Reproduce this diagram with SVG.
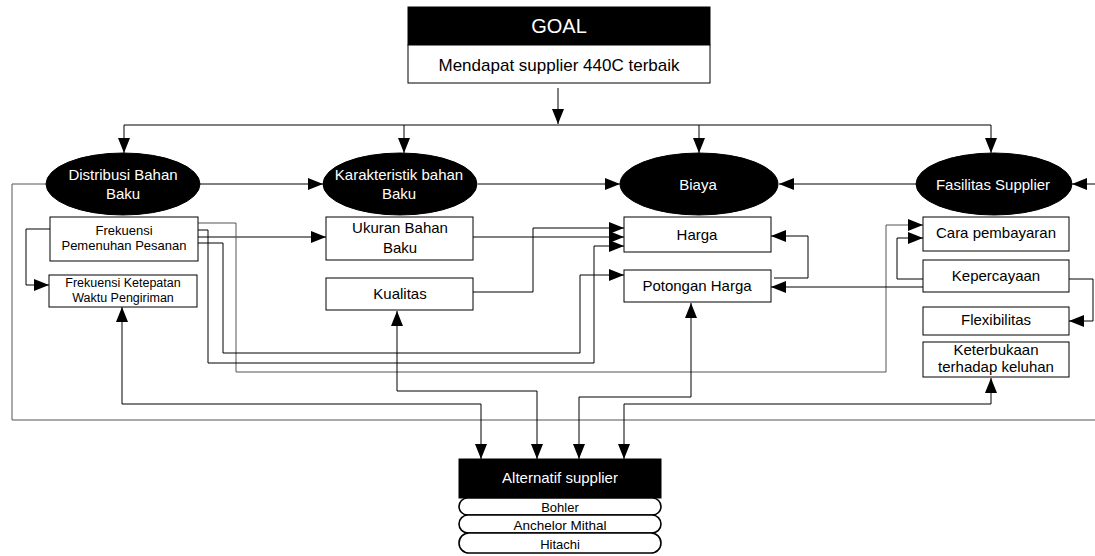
<svg xmlns="http://www.w3.org/2000/svg" width="1095" height="556" viewBox="0 0 1095 556">
<style>
text{font-family:"Liberation Sans",Arial,sans-serif;text-anchor:middle;fill:#000}
.w{fill:#fff}
.box{fill:#fff;stroke:#000;stroke-width:1}
.pill{fill:#fff;stroke:#000;stroke-width:1.6}
.blk{fill:#000;stroke:#000}
.c{fill:none;stroke:#000;stroke-width:1}
.g{fill:none;stroke:#555;stroke-width:1}
.a{marker-end:url(#ah)}
.b{marker-start:url(#ah);marker-end:url(#ah)}
</style>
<defs>
<marker id="ah" markerUnits="userSpaceOnUse" markerWidth="16" markerHeight="12" refX="15" refY="6" orient="auto-start-reverse">
<path d="M0,0 L15,6 L0,12 z" fill="#000"/>
</marker>
</defs>
<g id="connectors">
<path class="c a" d="M558,88 V124"/>
<path class="c" d="M124,125 H991"/>
<path class="c a" d="M124,125 V153"/>
<path class="c a" d="M404,125 V153"/>
<path class="c a" d="M699,125 V153"/>
<path class="c a" d="M991,125 V153"/>
<path class="c a" d="M200,184 H323"/>
<path class="c a" d="M478,184 H620"/>
<path class="c a" d="M916,184 H779"/>
<path class="c a" d="M1095,184 H1072"/>
<path class="g" d="M46,184 H12 V420 H1095"/>
<path class="c a" d="M50,229 H26 V285 H49"/>
<path class="c a" d="M198,237 H326"/>
<path class="g a" d="M198,223 H236 V372 H886 V225 H923"/>
<path class="c a" d="M198,230 H208 V363 H594 V246 H624"/>
<path class="c a" d="M198,243 H223 V353 H580 V275 H624"/>
<path class="c a" d="M473,237 H624"/>
<path class="c a" d="M473,292 H533 V228 H624"/>
<path class="c a" d="M774,278 H808 V236 H771"/>
<path class="c a" d="M923,287 H771"/>
<path class="c a" d="M923,279 H897 V238 H923"/>
<path class="c a" d="M1069,279 H1093 V321 H1069"/>
<path class="c b" d="M122,307 V404 H481 V459"/>
<path class="c b" d="M397,311 V391 H537 V459"/>
<path class="c b" d="M691,303 V397 H579 V459"/>
<path class="c b" d="M991,378 V404 H624 V459"/>
</g>
<g id="goal">
<rect class="blk" x="408" y="7" width="302" height="38"/>
<text class="w" x="559" y="33" font-size="20">GOAL</text>
<rect class="box" x="408" y="45" width="302" height="38"/>
<text x="559" y="71" font-size="17">Mendapat supplier 440C terbaik</text>
</g>
<g id="distribusi">
<ellipse class="blk" cx="123" cy="184" rx="77" ry="31"/>
<text class="w" x="123" y="180" font-size="15">Distribusi Bahan</text>
<text class="w" x="123" y="199" font-size="15">Baku</text>
</g>
<g id="karakteristik">
<ellipse class="blk" cx="400" cy="184" rx="77" ry="31"/>
<text class="w" x="399" y="180" font-size="15">Karakteristik bahan</text>
<text class="w" x="399" y="199" font-size="15">Baku</text>
</g>
<g id="biaya">
<ellipse class="blk" cx="699" cy="184" rx="79" ry="31"/>
<text class="w" x="698" y="190" font-size="15">Biaya</text>
</g>
<g id="fasilitas">
<ellipse class="blk" cx="994" cy="184" rx="78" ry="31"/>
<text class="w" x="993" y="190" font-size="15">Fasilitas Supplier</text>
</g>
<g id="frek-pemenuhan">
<rect class="box" x="50" y="217" width="148" height="44"/>
<text x="124" y="235" font-size="13">Frekuensi</text>
<text x="124" y="250" font-size="13">Pemenuhan Pesanan</text>
</g>
<g id="frek-ketepatan">
<rect class="box" x="49" y="275" width="148" height="32"/>
<text x="123" y="287" font-size="12.5">Frekuensi Ketepatan</text>
<text x="123" y="302" font-size="12.5">Waktu Pengiriman</text>
</g>
<g id="ukuran">
<rect class="box" x="326" y="217" width="147" height="43"/>
<text x="400" y="233" font-size="15">Ukuran Bahan</text>
<text x="400" y="253" font-size="15">Baku</text>
</g>
<g id="kualitas">
<rect class="box" x="326" y="278" width="147" height="32"/>
<text x="400" y="299" font-size="15">Kualitas</text>
</g>
<g id="harga">
<rect class="box" x="624" y="217" width="147" height="35"/>
<text x="697" y="240" font-size="15">Harga</text>
</g>
<g id="potongan">
<rect class="box" x="624" y="270" width="147" height="32"/>
<text x="697" y="291" font-size="15">Potongan Harga</text>
</g>
<g id="cara">
<rect class="box" x="923" y="217" width="146" height="34"/>
<text x="996" y="238" font-size="15">Cara pembayaran</text>
</g>
<g id="kepercayaan">
<rect class="box" x="923" y="260" width="146" height="32"/>
<text x="996" y="281" font-size="15">Kepercayaan</text>
</g>
<g id="flexibilitas">
<rect class="box" x="923" y="307" width="146" height="28"/>
<text x="996" y="325" font-size="15">Flexibilitas</text>
</g>
<g id="keterbukaan">
<rect class="box" x="923" y="342" width="146" height="35"/>
<text x="996" y="355" font-size="15">Keterbukaan</text>
<text x="996" y="372" font-size="15">terhadap keluhan</text>
</g>
<g id="alternatif">
<rect class="blk" x="459" y="459" width="202" height="39"/>
<text class="w" x="560" y="483" font-size="15">Alternatif supplier</text>
</g>
<g id="bohler">
<rect class="pill" x="459" y="498" width="202" height="17" rx="8.5"/>
<text x="560" y="512" font-size="13">Bohler</text>
</g>
<g id="anchelor">
<rect class="pill" x="459" y="515" width="202" height="18" rx="9"/>
<text x="560" y="530" font-size="13.5">Anchelor Mithal</text>
</g>
<g id="hitachi">
<rect class="pill" x="459" y="533" width="202" height="20" rx="10"/>
<text x="560" y="549" font-size="13">Hitachi</text>
</g>
</svg>
